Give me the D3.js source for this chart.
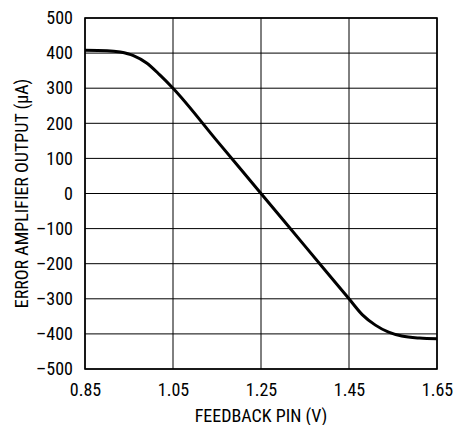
<!DOCTYPE html>
<html>
<head>
<meta charset="utf-8">
<script src="https://cdn.jsdelivr.net/npm/d3@7"></script>
<style>
  body { margin: 0; background: #fff; }
  text { font-family: "Liberation Sans Narrow", "Arial Narrow", "Roboto Condensed", sans-serif; fill: #000; }
</style>
</head>
<body>
<div id="chart"></div>
<script>
// feedback pin voltage (V) vs error amp output (uA)
var feedbackV = [0.85, 0.90, 0.93, 0.96, 0.99, 1.02, 1.05, 1.15, 1.25, 1.35, 1.45, 1.48, 1.51, 1.54, 1.57, 1.61, 1.65];
var outputUA  = [408, 407, 403, 393, 372, 338, 300, 150, 0, -150, -300, -345, -375, -395, -406, -412, -414];

var xTicks = [0.85, 1.05, 1.25, 1.45, 1.65];
var yTicks = [-500, -400, -300, -200, -100, 0, 100, 200, 300, 400, 500];

var svgWidth = 455;
var svgHeight = 425;

var margin = { top: 18, right: 18, bottom: 56, left: 85 };
var width = svgWidth - margin.left - margin.right;
var height = svgHeight - margin.top - margin.bottom;

var svg = d3.select("#chart")
  .append("svg")
  .attr("width", svgWidth)
  .attr("height", svgHeight);

var chartGroup = svg.append("g")
  .attr("transform", `translate(${margin.left}, ${margin.top})`);

var xScale = d3.scaleLinear().domain([0.85, 1.65]).range([0, width]);
var yScale = d3.scaleLinear().domain([-500, 500]).range([height, 0]);

// grid
chartGroup.selectAll(".vgrid")
  .data(xTicks)
  .enter()
  .append("line")
  .attr("x1", d => xScale(d))
  .attr("x2", d => xScale(d))
  .attr("y1", 0)
  .attr("y2", height)
  .attr("stroke", "#000")
  .attr("stroke-width", 1);

chartGroup.selectAll(".hgrid")
  .data(yTicks)
  .enter()
  .append("line")
  .attr("x1", 0)
  .attr("x2", width)
  .attr("y1", d => yScale(d))
  .attr("y2", d => yScale(d))
  .attr("stroke", "#000")
  .attr("stroke-width", 1);

// frame
chartGroup.append("rect")
  .attr("width", width)
  .attr("height", height)
  .attr("fill", "none")
  .attr("stroke", "#000")
  .attr("stroke-width", 1.6);

// axes (labels only)
var xAxis = d3.axisBottom(xScale).tickValues(xTicks).tickSize(0).tickPadding(14)
  .tickFormat(d3.format(".2f"));
var yAxis = d3.axisLeft(yScale).tickValues(yTicks).tickSize(0).tickPadding(12)
  .tickFormat(d => d < 0 ? "\u2013" + Math.abs(d) : d);

chartGroup.append("g")
  .attr("transform", `translate(0, ${height})`)
  .call(xAxis)
  .call(g => g.select(".domain").remove())
  .selectAll("text")
  .style("font-size", "18px")
  .style("font-family", null);

chartGroup.append("g")
  .call(yAxis)
  .call(g => g.select(".domain").remove())
  .selectAll("text")
  .style("font-size", "18px")
  .style("font-family", null);

// curve
var line = d3.line()
  .x((d, i) => xScale(feedbackV[i]))
  .y(d => yScale(d))
  .curve(d3.curveMonotoneX);

chartGroup.append("path")
  .datum(outputUA)
  .attr("d", line)
  .attr("fill", "none")
  .attr("stroke", "#000")
  .attr("stroke-width", 3);

// axis titles
svg.append("text")
  .attr("x", margin.left + width / 2)
  .attr("y", 422)
  .style("text-anchor", "middle")
  .style("font-size", "18px")
  .text("FEEDBACK PIN (V)");

svg.append("text")
  .attr("transform", `translate(28, ${margin.top + height / 2}) rotate(-90)`)
  .style("text-anchor", "middle")
  .style("font-size", "18px")
  .text("ERROR AMPLIFIER OUTPUT (\u03bcA)");
</script>
</body>
</html>
